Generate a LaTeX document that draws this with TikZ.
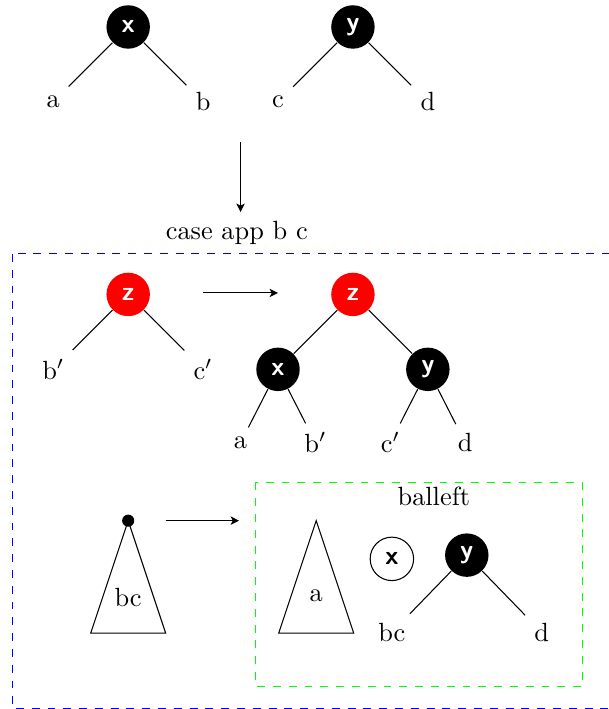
\documentclass[tikz,border=0pt]{standalone}
\usepackage{tikz}
\usetikzlibrary{arrows.meta, positioning}

\begin{document}
\begin{tikzpicture}[
    >={Stealth[length=3.2pt, width=3.2pt, inset=0.8pt]},
    blacknode/.style={circle, fill=black, text=white, minimum size=16.5pt, inner sep=0pt, font=\sffamily\bfseries},
    rednode/.style={circle, fill=red, text=white, minimum size=16.5pt, inner sep=0pt, font=\sffamily\bfseries},
    whitenode/.style={circle, draw=black, fill=white, minimum size=16.5pt, inner sep=0pt, font=\sffamily\bfseries},
    dotnode/.style={circle, fill=black, minimum size=4.6pt, inner sep=0pt}
]
    \useasboundingbox (-1.711,0.36) rectangle (6.417,-9.104);

    % Input trees
    \node[blacknode] (x1) at (0,0) {x};
    \node (a1) at (-1,-1) {a};
    \node (b1) at (1,-1) {b};
    \draw (x1) -- (a1);
    \draw (x1) -- (b1);

    \node[blacknode] (y1) at (3,0) {y};
    \node (c1) at (2,-1) {c};
    \node (d1) at (4,-1) {d};
    \draw (y1) -- (c1);
    \draw (y1) -- (d1);

    \coordinate (down) at (1.5,-1.54);
    \node (case) at (1.45,-2.75) {case app b c};
    \draw[->] (down) -- (down |- case.north);

    % Case box
    \draw[blue, dashed] (-1.54,-3.03) rectangle (6.6,-9.104);

    % Red root
    \node[rednode] (z2) at (0,-3.57) {z};
    \node (bp2) at (-1,-4.57) {b$'$};
    \node (cp2) at (1,-4.57) {c$'$};
    \draw (z2) -- (bp2);
    \draw (z2) -- (cp2);

    \coordinate (r1) at (1,-3.55);
    \coordinate (r2) at (2,-3.55);
    \draw[->] (r1) -- (r2);

    \node[rednode] (z3) at (3,-3.57) {z};
    \node[blacknode] (x3) at (2,-4.57) {x};
    \node[blacknode] (y3) at (4,-4.57) {y};
    \node (a3) at (1.5,-5.55) {a};
    \node (bp3) at (2.5,-5.55) {b$'$};
    \node (cp3) at (3.5,-5.55) {c$'$};
    \node (d3) at (4.5,-5.55) {d};
    \draw (z3) -- (x3);
    \draw (z3) -- (y3);
    \draw (x3) -- (a3);
    \draw (x3) -- (bp3);
    \draw (y3) -- (cp3);
    \draw (y3) -- (d3);

    % Subtree bc
    \node[dotnode] (top) at (0,-6.59) {};
    \draw (top.center) -- ++(-0.5,-1.5) -- ++(1,0) -- cycle;
    \node (bc) at (0,-7.62) {bc};

    \coordinate (s1) at (0.5,-6.59);
    \coordinate (s2) at (1.48,-6.59);
    \draw[->] (s1) -- (s2);

    % balleft
    \draw[green, dashed] (1.70,-6.08) rectangle (6.06,-8.80);
    \node (balleft) at (4.08,-6.27) {balleft};

    \coordinate (atop) at (2.51,-6.59);
    \draw (atop) -- ++(-0.5,-1.5) -- ++(1,0) -- cycle;
    \node (a4) at (2.51,-7.59) {a};

    \node[whitenode] (x4) at (3.52,-7.10) {x};
    \node[blacknode] (y4) at (4.52,-7.05) {y};
    \node (bc4) at (3.52,-8.08) {bc};
    \node (d4) at (5.52,-8.08) {d};
    \draw (y4) -- (bc4);
    \draw (y4) -- (d4);
\end{tikzpicture}
\end{document}
